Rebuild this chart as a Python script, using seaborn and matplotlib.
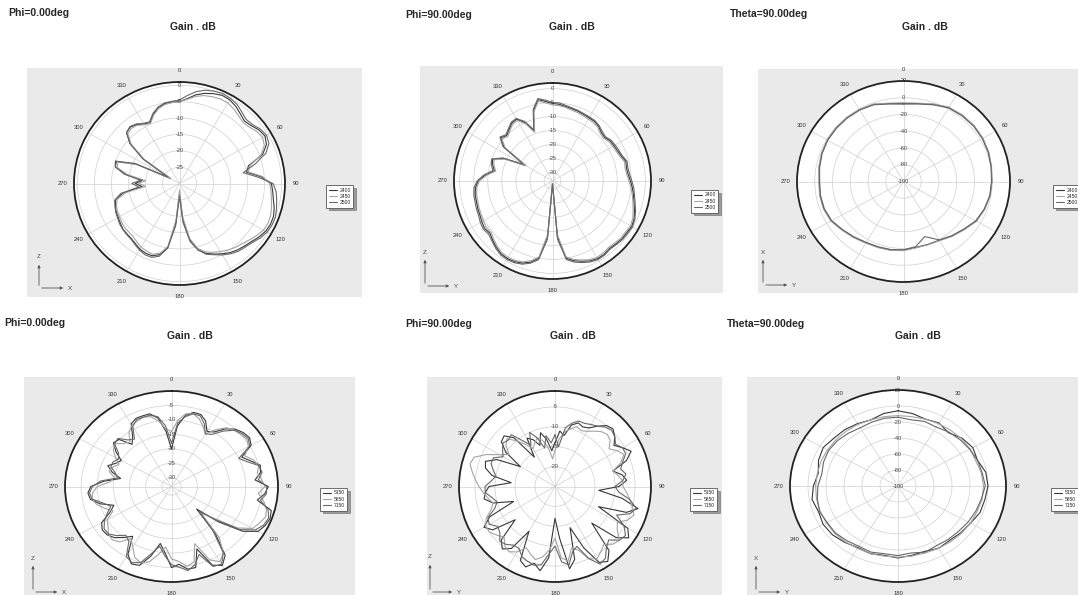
import numpy as np
import pandas as pd
import seaborn as sns
import matplotlib
matplotlib.use("Agg")
import matplotlib.pyplot as plt
from matplotlib.lines import Line2D
from matplotlib.patches import FancyArrowPatch

W, H = 1078, 595

ANG5 = list(range(0, 360, 5))
ANG10 = list(range(0, 360, 10))

LOW_BAND = ["2400", "2450", "2500"]
HIGH_BAND = ["5150", "5850", "7150"]
LINE_COLORS = ["#383838", "#a4a4a4", "#686868"]

# ---- Phi=0deg, 2.4 GHz (5 deg steps) ----
p1_2400 = [-5, -4, -2.5, -1.5, -0.8, -0.3, -0.5, -1.2, -2.2, -3, -2.5, -1.5, -1.0, -1.8, -4, -9, -10, -6,
           -3, -2.5, -2, -1.2, -0.6, -0.5, -0.8, -1.5, -2.4, -3, -3.5, -4.2, -5.2, -6.2, -7.3, -9, -12.5, -19,
           -27, -18, -10, -7.5, -6.5, -6.5, -6.8, -7.5, -8, -8.2, -8.3, -8.8, -9.2, -9.5, -10, -10.5, -13, -19,
           -17, -19, -14, -10.5, -10, -16, -27, -17, -11, -8, -7.5, -8, -9, -9.5, -7.5, -6, -5.2, -5]
p1_2450 = [-5, -4.2, -3, -2.2, -1.8, -1.5, -1.6, -2.2, -3, -3.6, -3.2, -2.3, -1.8, -2.5, -4.5, -8.5, -9.5, -5.5,
           -3.5, -3, -2.6, -2, -1.5, -1.3, -1.5, -2.3, -3.2, -4, -4.5, -5.2, -6, -6.8, -7.8, -9.5, -13, -20,
           -28, -19, -10.5, -8, -7, -7.2, -7.5, -8.2, -8.8, -9, -9, -9.3, -9.6, -9.8, -10.3, -11, -14, -20,
           -18, -20, -14.5, -11, -10.8, -16.5, -27, -17.5, -11.5, -8.5, -8, -8.3, -9.3, -9.8, -7.8, -6.3, -5.5, -5.2]
p1_2500 = [-4.5, -3, -1.5, -0.5, 0, 0.3, 0, -0.5, -1.5, -2.3, -2, -1, -0.5, -1, -3, -7, -11, -7,
           -2.5, -1.5, -1, -0.5, 0, 0, -0.3, -1, -2, -2.6, -3, -3.8, -4.8, -6, -7, -9, -12, -18,
           -26, -17, -10, -7, -6, -6, -6.5, -7.2, -7.8, -8, -8.2, -8.5, -9, -9.3, -9.8, -10.3, -12.5, -18,
           -16, -18.5, -13.5, -10.5, -10.3, -15.5, -26, -17, -11, -8, -7.3, -7.8, -8.8, -9.2, -7.2, -5.8, -5, -4.8]

# ---- Phi=90deg, 2.4 GHz (5 deg steps) ----
p2_2400 = [-5.3, -5.5, -6, -6.3, -6.5, -6.8, -7, -7, -7.5, -8.5, -8.8, -8, -7.8, -7.5, -7, -6, -6.3, -6,
           -5.3, -4.5, -3.8, -3, -2, -1, -0.5, -0.8, -0.8, -1.2, -1.5, -1, -1, -1.5, -2.5, -3.5, -5, -13,
           -32, -13, -5, -3, -1.8, -1.2, -1, -1.2, -2, -3, -4, -3.5, -4, -4.5, -4.7, -5, -5.1, -5.5,
           -6.6, -9, -12, -11, -10.3, -14, -22, -12, -9, -10, -9, -7.8, -7.5, -10, -14, -7, -3.5, -4.5]
p2_2450 = [-5.8, -6, -6.3, -6.8, -7, -7.3, -7.5, -7.6, -8, -9, -9.3, -8.5, -8.3, -8, -7.5, -6.5, -6.8, -6.5,
           -5.8, -5, -4.2, -3.4, -2.5, -1.5, -1, -1.3, -1.3, -1.7, -2, -1.6, -1.5, -2, -3, -4, -5.5, -14,
           -32, -14, -5.5, -3.5, -2.3, -1.7, -1.5, -1.7, -2.5, -3.5, -4.5, -4.2, -4.6, -5, -5.2, -5.5, -5.6, -6,
           -7, -9.5, -12.5, -11.5, -10.8, -14.5, -22, -12.5, -9.5, -10.5, -9.5, -8.3, -8, -10.5, -14.5, -7.5, -4, -5]
p2_2500 = [-5, -5, -5.6, -6, -6.2, -6.5, -6.6, -6.7, -7.2, -8, -8.4, -7.6, -7.3, -7, -6.6, -5.6, -5.8, -5.5,
           -4.8, -4, -3.4, -2.6, -1.6, -0.7, -0.2, -0.4, -0.5, -0.9, -1.2, -0.7, -0.6, -1.1, -2, -3, -4.5, -12,
           -32, -12, -4.5, -2.6, -1.4, -0.8, -0.6, -0.8, -1.6, -2.6, -3.4, -3, -3.4, -4, -4.2, -4.5, -4.6, -5,
           -6.2, -8.5, -11.5, -10.5, -10, -13.5, -21, -11.5, -8.6, -9.6, -8.6, -7.4, -7.2, -9.5, -13.5, -6.5, -3.1, -4]

# ---- Theta=90deg, 2.4 GHz (10 deg steps) ----
p3_2400 = [-7, -5.5, -2, 2, 3, 3.5, 3, 2, 0.5, -0.5, -1, -3, -5.5, -11, -15, -19, -20, -20,
           -18, -17, -16.5, -15.5, -13, -10, -6, -4.5, -4.5, -5, -3.5, -2, -1, -0.8, -0.8, -1, -2, -5.5]
p3_2450 = [-6, -5, -1.5, 2.5, 3.5, 3.8, 3.3, 2.3, 0.8, -0.3, -0.8, -2.5, -5, -10.5, -14.5, -18.5, -19.5, -19.5,
           -17.5, -16.5, -16, -15, -12.5, -9.5, -5.5, -4, -4, -4.5, -3, -1.6, -0.6, -0.4, -0.4, -0.6, -1.5, -5]
p3_2500 = [-7.5, -6, -2.5, 1.5, 2.5, 3, 2.6, 1.6, 0.2, -0.8, -1.3, -3.3, -6, -11.5, -15.5, -19.5, -30, -21,
           -18.5, -17.5, -17, -16, -13.5, -10.5, -6.5, -5, -5, -5.5, -4, -2.4, -1.4, -1.2, -1.2, -1.4, -2.5, -6]

# ---- Phi=0deg, 5-7 GHz (5 deg steps) ----
p4_5150 = [-20, -12, -8, -6.5, -6.5, -8, -11, -10, -7, -5, -4, -3.5, -4.5, -9, -7, -4.5, -5, -7,
           -3, -4, -6, -1, -0.5, -1, -2, -6, -14, -22, -12, -4, -1.5, -3, -10, -4, -4, -6,
           -5, -10, -13, -8, -4, -3.5, -6, -12, -10, -8, -7, -6.8, -8, -12, -14, -10, -7.5, -7,
           -8, -12, -17, -14, -12, -14, -15, -12, -9.5, -10, -14, -12, -8, -7, -7, -7, -9, -14]
p4_5850 = [-14, -10, -7.5, -7, -8, -10, -12, -9, -6.5, -5.5, -5, -4.5, -5.5, -8, -6, -5, -6, -5,
           -4, -6, -4, -2.5, -2, -3, -4, -8, -16, -20, -10, -5, -3, -5, -12, -6, -5, -7,
           -8, -12, -9, -6, -5, -6, -9, -11, -8, -7, -7.5, -9, -10, -13, -11, -9, -8, -8.5,
           -10, -14, -15, -13, -13.5, -15, -13, -11, -10, -12, -13, -10, -8.5, -8, -7.5, -8, -10, -13]
p4_7150 = [-18, -11, -8.5, -7, -7, -9, -12, -11, -8, -5.5, -4.5, -4, -5, -10, -8, -5, -4.5, -6,
           -3.5, -3.5, -5, -2, -1, -1.5, -3, -7, -15, -21, -13, -5, -2, -2.5, -8, -5, -3.5, -5,
           -6, -9, -12, -9, -5, -4, -5, -10, -11, -9, -7.5, -7.5, -9, -11, -13, -11, -8, -7.5,
           -8.5, -11, -16, -15, -13, -13, -14, -13, -10, -9.5, -12, -13, -9, -7.5, -7.5, -7.5, -8.5, -12]

# ---- Phi=90deg, 5-7 GHz (5 deg steps) ----
p5_5150 = [-14, -11, -12, -9, -8, -8.5, -8, -6.5, -5, -4.5, -5.5, -7, -5.5, -4, -6, -10, -8, -7,
           -9, -14, -8, -3.5, -6, -13, -4, -2.5, -5, -12, -4, -2, -3, -8, -14, -6, -4, -12,
           -17, -7, -3.5, -5, -3.5, -4.5, -12, -6, -4.5, -6, -12, -6, -4.5, -7, -14, -9, -7, -7.5,
           -8.5, -14, -9, -7, -6.5, -9, -15, -10, -7.5, -7, -9, -16, -11, -12, -14, -11, -13, -16]
p5_5850 = [-16, -13, -11, -10, -9, -9.5, -9, -8, -7, -6.5, -7, -8.5, -7, -6, -7.5, -10, -9, -8,
           -8, -7, -6, -5, -4, -5, -7, -6, -4, -4.5, -6, -5, -4, -5, -8, -9, -6, -7,
           -12, -9, -7, -6, -7, -8, -6, -5, -5.5, -7, -6, -5, -5, -6, -8, -9, -8, -7,
           -6, -5, -4, -3, -3.5, -6, -9, -11, -9, -8, -10, -12, -14, -13, -12, -13, -15, -18]
p5_7150 = [-12, -15, -10, -8.5, -7.5, -7.5, -7, -6.5, -5.5, -5, -5.5, -6.5, -5.5, -5.5, -7, -8, -7, -8,
           -10, -9, -6, -4, -5, -8, -5, -3.5, -4, -6, -5, -3, -2.5, -5, -9, -8, -5, -6,
           -10, -8, -5, -4.5, -5, -5.5, -7, -7, -6, -5.5, -7, -7.5, -6, -6.5, -9, -10, -9, -7.5,
           -7.5, -9, -10, -9, -8, -8, -10, -9, -8, -8.5, -8, -11, -13, -10, -12, -15, -12, -14]

# ---- Theta=90deg, 5-7 GHz (10 deg steps) ----
p6_5150 = [-6, -8, -11, -9, -13, -7, -4, -6, -1, 0, -2, -3, -7, -9, -11, -10, -13, -12,
           -10, -12, -10, -11, -8, -5, -4, -6, -3, -6, -10, -6, -4, -7, -8, -10, -12, -8]
p6_5850 = [-12, -12, -11, -10, -9, -8, -7.5, -8, -6, -5, -5, -6.5, -7, -8, -9, -10, -11, -11,
           -11, -11, -10, -10, -9, -8, -8, -8, -8, -8.5, -9, -9, -9.5, -10, -10.5, -11, -12, -12]
p6_7150 = [-14, -16, -14, -15, -12, -10, -8, -6, -5, -3, -6, -8, -10, -12, -13, -14, -12, -15,
           -13, -14, -12, -13, -11, -9, -9, -7, -9, -11, -14, -12, -11, -12, -14, -16, -15, -14]

PANELS = [
    dict(head="Phi=0.00deg", head_xy=(8, 13), title_xy=(193, 27),
         grey=(27, 68, 362, 297), polar=(74, 82, 285, 285),
         rlim=(-30, 1), rgrid=[-25, -20, -15, -10, -5, 0], rlabels=[-25, -20, -15, -10, -5, 0],
         angles=ANG5, names=LOW_BAND, series=[p1_2400, p1_2450, p1_2500],
         legend_xy=(326, 185), triad=((39, 288), 262, 66, "Z", "X")),
    dict(head="Phi=90.00deg", head_xy=(405, 15), title_xy=(572, 27),
         grey=(420, 66, 723, 293), polar=(454, 83, 651, 279),
         rlim=(-33, 2), rgrid=[-30, -25, -20, -15, -10, -5, 0], rlabels=[-30, -25, -20, -15, -10, -5, 0],
         angles=ANG5, names=LOW_BAND, series=[p2_2400, p2_2450, p2_2500],
         legend_xy=(691, 190), triad=((425, 286), 257, 452, "Z", "Y")),
    dict(head="Theta=90.00deg", head_xy=(730, 14), title_xy=(925, 27),
         grey=(758, 69, 1078, 293), polar=(797, 81, 1010, 282),
         rlim=(-100, 20), rgrid=[-80, -60, -40, -20, 0], rlabels=[-100, -80, -60, -40, -20, 0, 20],
         angles=ANG10, names=LOW_BAND, series=[p3_2400, p3_2450, p3_2500],
         legend_xy=(1053, 185), triad=((763, 285), 257, 790, "X", "Y")),
    dict(head="Phi=0.00deg", head_xy=(4, 323), title_xy=(190, 336),
         grey=(24, 377, 355, 595), polar=(65, 391, 278, 582),
         rlim=(-33, 0), rgrid=[-30, -25, -20, -15, -10, -5], rlabels=[-30, -25, -20, -15, -10, -5],
         angles=ANG5, names=HIGH_BAND, series=[p4_5150, p4_5850, p4_7150],
         legend_xy=(320, 488), triad=((33, 592), 563, 60, "Z", "X")),
    dict(head="Phi=90.00deg", head_xy=(405, 324), title_xy=(573, 336),
         grey=(427, 377, 722, 595), polar=(459, 391, 651, 582),
         rlim=(-25, -1), rgrid=[-20, -15, -10, -5], rlabels=[-20, -15, -10, -5],
         angles=ANG5, names=HIGH_BAND, series=[p5_5150, p5_5850, p5_7150],
         legend_xy=(690, 488), triad=((430, 592), 562, 455, "Z", "Y")),
    dict(head="Theta=90.00deg", head_xy=(727, 324), title_xy=(918, 336),
         grey=(747, 377, 1078, 595), polar=(790, 390, 1006, 582),
         rlim=(-100, 20), rgrid=[-80, -60, -40, -20, 0], rlabels=[-100, -80, -60, -40, -20, 0, 20],
         angles=ANG10, names=HIGH_BAND, series=[p6_5150, p6_5850, p6_7150],
         legend_xy=(1051, 488), triad=((756, 592), 563, 783, "X", "Y")),
]


def fx(x):
    return x / W


def fy(y):
    return 1 - y / H


def box(x0, y0, x1, y1):
    return [fx(x0), fy(y1), (x1 - x0) / W, (y1 - y0) / H]


sns.set_theme(style="white")
plt.rcParams['font.family'] = ['Liberation Sans', 'DejaVu Sans']

fig = plt.figure(figsize=(W / 100, H / 100), dpi=100)

for p in PANELS:
    # grey plot area
    bg = fig.add_axes(box(*p["grey"]))
    bg.set_facecolor("#eaeaea")
    bg.set_xticks([])
    bg.set_yticks([])
    for s in bg.spines.values():
        s.set_visible(False)

    ax = fig.add_axes(box(*p["polar"]), projection="polar")
    ax.set_aspect("auto")
    ax.set_facecolor("white")
    ax.set_theta_zero_location("N")
    ax.set_theta_direction(-1)

    frames = []
    for name, vals in zip(p["names"], p["series"]):
        ang = list(p["angles"]) + [360]
        val = list(vals) + [vals[0]]
        frames.append(pd.DataFrame({"theta": np.deg2rad(ang), "gain": val, "freq": name}))
    df = pd.concat(frames, ignore_index=True)
    sns.lineplot(data=df, x="theta", y="gain", hue="freq",
                 palette=dict(zip(p["names"], LINE_COLORS)),
                 sort=False, estimator=None, linewidth=0.8, legend=False, ax=ax)
    ax.set_xlabel("")
    ax.set_ylabel("")

    ax.set_ylim(*p["rlim"])
    ax.set_yticks(p["rgrid"])
    ax.set_yticklabels([])
    ax.set_xticks(np.deg2rad(range(0, 360, 30)))
    ax.set_xticklabels([str(a) for a in range(0, 360, 30)])
    ax.tick_params(axis="x", labelsize=4.2, colors="#333333", pad=-5)
    ax.grid(True, color="#cfcfcf", linewidth=0.5)
    ax.spines["polar"].set_linewidth(1.3)
    ax.spines["polar"].set_color("#222222")
    for r in p["rlabels"]:
        ax.text(0, r, str(r), fontsize=4, color="#444444", ha="center", va="center")

    # header texts
    hx, hy = p["head_xy"]
    fig.text(fx(hx), fy(hy), p["head"], fontsize=7.5, fontweight="bold", ha="left", va="center")
    tx, ty = p["title_xy"]
    fig.text(fx(tx), fy(ty), "Gain . dB", fontsize=7.5, fontweight="bold", ha="center", va="center")

    # legend box
    handles = [Line2D([], [], color=c, lw=0.8) for c in LINE_COLORS]
    lx, ly = p["legend_xy"]
    leg = fig.legend(handles, p["names"], loc="upper left", bbox_to_anchor=(fx(lx), fy(ly)),
                     fontsize=3.6, frameon=True, fancybox=False, shadow=True,
                     handlelength=1.6, handletextpad=0.6, labelspacing=0.25,
                     borderpad=0.5, borderaxespad=0)
    leg.get_frame().set_edgecolor("#555555")
    leg.get_frame().set_linewidth(0.6)

    # coordinate triad
    (ox, oy), top, right, vlab, hlab = p["triad"]
    fig.add_artist(FancyArrowPatch((fx(ox), fy(oy)), (fx(ox), fy(top)), transform=fig.transFigure,
                                   arrowstyle="-|>", mutation_scale=4, lw=0.6, color="#555555"))
    fig.add_artist(FancyArrowPatch((fx(ox), fy(oy)), (fx(right), fy(oy)), transform=fig.transFigure,
                                   arrowstyle="-|>", mutation_scale=4, lw=0.6, color="#555555"))
    fig.text(fx(ox), fy(top - 5), vlab, fontsize=4.5, color="#444444", ha="center", va="center")
    fig.text(fx(right + 4), fy(oy), hlab, fontsize=4.5, color="#444444", ha="center", va="center")

fig.savefig("out.png", dpi=100)
